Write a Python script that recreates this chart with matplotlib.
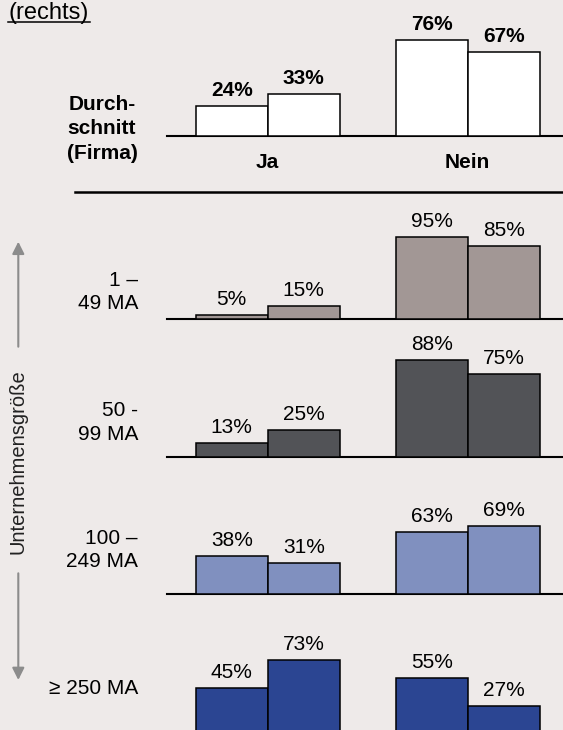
import matplotlib
matplotlib.use("Agg")
import matplotlib.pyplot as plt
from matplotlib.patches import FancyArrowPatch
from matplotlib.lines import Line2D

plt.rcParams['font.family'] = ['Liberation Sans', 'DejaVu Sans']

# data
groups = ['Ja', 'Nein']
row_labels = ['Durch-\nschnitt\n(Firma)', '1 –\n49 MA', '50 -\n99 MA', '100 –\n249 MA', '≥ 250 MA']
ja_values = [[24, 33], [5, 15], [13, 25], [38, 31], [45, 73]]
nein_values = [[76, 67], [95, 85], [88, 75], [63, 69], [55, 27]]
colors = ['white', '#a29795', '#525357', '#8090bf', '#2b4592']

W, H = 563, 730
bg = '#eeeae9'
fig = plt.figure(figsize=(W / 100, H / 100), dpi=100, facecolor=bg)

# layout (pixels from top)
baselines = [136, 319.3, 457.3, 593.7, 732.7]
px_per_pct = [1.26, 0.862, 1.11, 0.98, 1.0]
label_y = [129, 292, 422.5, 550, 688.3]
ax_h = 125
x_left, x_right = 167, 563
grp_px = 200.0
ja_center = 267.7
bw = 0.36
fs = 15


def fx(px):
    return px / W


def fy(py):
    return 1 - py / H


for i in range(5):
    base = baselines[i]
    ax = fig.add_axes([fx(x_left), (H - base) / H, (x_right - x_left) / W, ax_h / H])
    ax.set_facecolor('none')
    ax.set_xlim((x_left - ja_center) / grp_px, (x_right - ja_center) / grp_px)
    ax.set_ylim(0, ax_h / px_per_pct[i])
    for s in ['top', 'left', 'right']:
        ax.spines[s].set_visible(False)
    ax.spines['bottom'].set_linewidth(1.5)
    ax.set_xticks([])
    ax.set_yticks([])
    bold = 'bold' if i == 0 else 'normal'
    for g, vals in enumerate([ja_values[i], nein_values[i]]):
        xs = [g - bw / 2, g + bw / 2]
        ax.bar(xs, vals, width=bw, color=colors[i], edgecolor='black',
               linewidth=1.1, zorder=3, clip_on=False)
        for x, v in zip(xs, vals):
            ax.annotate(f'{v}%', (x, v), xytext=(0, 10), textcoords='offset pixels',
                        ha='center', va='baseline', fontsize=fs, fontweight=bold)
    if i == 0:
        for g, name in enumerate(groups):
            ax.annotate(name, (g, 0), xytext=(0, -26), textcoords='offset pixels',
                        ha='center', va='center', fontsize=fs, fontweight='bold')
        fig.text(fx(102), fy(label_y[i]), row_labels[i], ha='center', va='center',
                 multialignment='center', fontsize=fs, fontweight='bold', linespacing=1.38)
    else:
        fig.text(fx(138), fy(label_y[i]), row_labels[i], ha='right', va='center',
                 multialignment='right', fontsize=fs, linespacing=1.3)

# separator
fig.add_artist(Line2D([fx(75), fx(563)], [fy(191.7), fy(191.7)], color='black', lw=1.8))

# (rechts) with underline
fig.text(fx(8), fy(19), '(rechts)', ha='left', va='baseline', fontsize=17)
fig.add_artist(Line2D([fx(8), fx(90)], [fy(22), fy(22)], color='black', lw=1.1))

# size arrow
arrow_c = '#8c8c8c'
for y0, y1 in [(346.7, 241.7), (573.3, 680)]:
    fig.add_artist(FancyArrowPatch((fx(18.3), fy(y0)), (fx(18.3), fy(y1)),
                                   transform=fig.transFigure, arrowstyle='-|>,head_length=0.6,head_width=0.3',
                                   mutation_scale=12, color=arrow_c, lw=1.5,
                                   shrinkA=0, shrinkB=0))
fig.text(fx(18.3), fy(461.7), 'Unternehmensgröße', rotation=90, ha='center', va='center',
         fontsize=14.5, color='#222222')

fig.savefig('out.png', dpi=100, facecolor=bg)
